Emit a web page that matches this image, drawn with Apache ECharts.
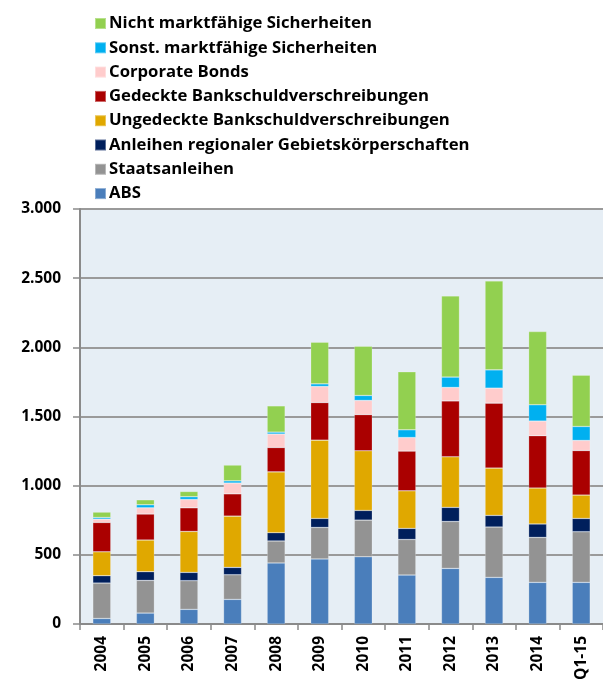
<!DOCTYPE html>
<html lang="de">
<head>
  <meta charset="UTF-8">
  <script src="https://cdn.jsdelivr.net/npm/echarts@6/dist/echarts.min.js"></script>
  <title>Sicherheiten</title>
  <style>
    html, body { margin: 0; padding: 0; background: #fff; }
    #chart { width: 603px; height: 685px; }
  </style>
</head>
<body>
  <div id="chart"></div>
  <script>
    // Kategorien (x-Achse)
    const jahre = ['2004', '2005', '2006', '2007', '2008', '2009', '2010', '2011', '2012', '2013', '2014', 'Q1-15'];

    // Werte je Sicherheitenart (Mrd. €)
    const abs = [40, 79, 106, 178, 441, 470, 486, 354, 402, 337, 301, 301];
    const staatsanleihen = [256, 236, 207, 178, 159, 228, 265, 257, 339, 364, 325, 366];
    const regionale = [53, 63, 60, 53, 60, 65, 70, 80, 102, 84, 97, 96];
    const ungedeckte = [173, 229, 296, 371, 440, 566, 431, 272, 366, 342, 260, 169];
    const gedeckte = [212, 188, 171, 161, 176, 272, 262, 287, 404, 470, 378, 322];
    const corporate = [24, 45, 60, 78, 97, 116, 102, 98, 97, 108, 106, 73];
    const sonstige = [12, 22, 20, 16, 14, 19, 36, 56, 75, 132, 118, 101];
    const nichtMarktf = [39, 36, 38, 114, 190, 301, 356, 419, 587, 643, 529, 371];

    const yTicks = [0, 500, 1000, 1500, 2000, 2500, 3000];

    const reihen = [
      { name: 'ABS', data: abs, color: '#4A7EBB' },
      { name: 'Staatsanleihen', data: staatsanleihen, color: '#939393' },
      { name: 'Anleihen regionaler Gebietskörperschaften', data: regionale, color: '#001F5C' },
      { name: 'Ungedeckte Bankschuldverschreibungen', data: ungedeckte, color: '#E0A800' },
      { name: 'Gedeckte Bankschuldverschreibungen', data: gedeckte, color: '#AA0000' },
      { name: 'Corporate Bonds', data: corporate, color: '#FFCCCC' },
      { name: 'Sonst. marktfähige Sicherheiten', data: sonstige, color: '#00B0F0' },
      { name: 'Nicht marktfähige Sicherheiten', data: nichtMarktf, color: '#92D050' }
    ];

    const chart = echarts.init(document.getElementById('chart'));
    const schrift = '"Open Sans", "DejaVu Sans", sans-serif';

    chart.setOption({
      animation: false,
      textStyle: { fontFamily: schrift },
      legend: {
        orient: 'vertical',
        left: 89,
        top: 10,
        itemWidth: 11,
        itemHeight: 11,
        itemGap: 7.3,
        icon: 'rect',
        data: reihen.map(r => r.name).reverse(),
        textStyle: { fontFamily: schrift, fontSize: 16.7, fontWeight: 'bold', color: '#000', lineHeight: 17, padding: [0, 0, 0, -2] }
      },
      grid: {
        left: 80,
        right: 0,
        top: 209,
        bottom: 61,
        show: true,
        backgroundColor: '#E6EEF5',
        borderWidth: 0
      },
      xAxis: {
        type: 'category',
        data: jahre,
        axisLine: { lineStyle: { color: '#8a8a8a', width: 2 } },
        axisTick: { show: true, length: 6, lineStyle: { color: '#8a8a8a', width: 1.5 } },
        axisLabel: {
          rotate: 90,
          margin: 12,
          fontFamily: schrift,
          fontSize: 15.5,
          fontWeight: 'bold',
          color: '#000'
        }
      },
      yAxis: {
        type: 'value',
        min: yTicks[0],
        max: yTicks[yTicks.length - 1],
        interval: 500,
        axisLine: { show: true, lineStyle: { color: '#8a8a8a', width: 2 } },
        axisTick: { show: true, length: 7, lineStyle: { color: '#8a8a8a', width: 1.5 } },
        splitLine: { lineStyle: { color: '#9a9a9a', width: 2 } },
        axisLabel: {
          margin: 19,
          fontFamily: schrift,
          fontSize: 15.5,
          fontWeight: 'bold',
          color: '#000',
          formatter: v => v.toLocaleString('de-DE')
        }
      },
      series: reihen.map(r => ({
        name: r.name,
        type: 'bar',
        stack: 'gesamt',
        barWidth: 18,
        data: r.data,
        itemStyle: { color: r.color, borderColor: 'rgba(255,255,255,0.35)', borderWidth: 0.6 }
      }))
    });
  </script>
</body>
</html>
